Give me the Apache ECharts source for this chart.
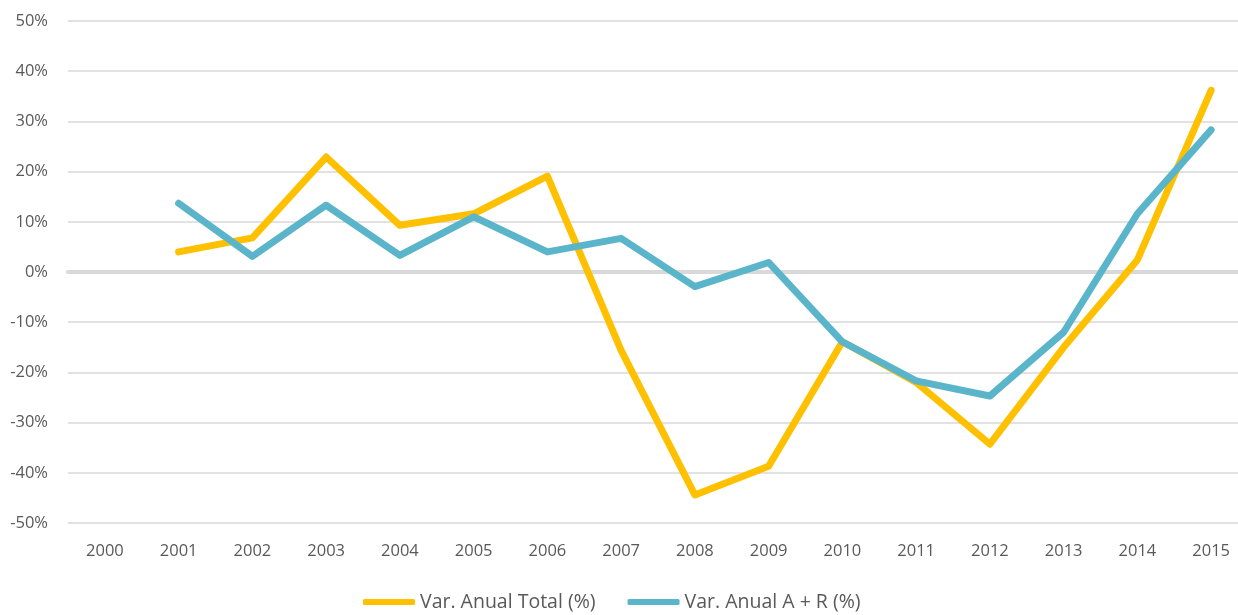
<!DOCTYPE html>
<html>
<head>
<meta charset="utf-8">
<script src="https://cdn.jsdelivr.net/npm/echarts@6/dist/echarts.min.js"></script>
<style>
html,body{margin:0;padding:0;background:#fff;}
#chart{width:1238px;height:615px;}
</style>
</head>
<body>
<div id="chart"></div>
<script>
var years = ['2000','2001','2002','2003','2004','2005','2006','2007','2008','2009','2010','2011','2012','2013','2014','2015'];
var seriesTotalName = 'Var. Anual Total (%)';
var seriesARName = 'Var. Anual A + R (%)';
var totalValues = [null, 4.0, 6.8, 22.9, 9.3, 11.6, 19.1, -15.6, -44.4, -38.7, -13.9, -22.0, -34.3, -15.0, 2.4, 36.2];
var arValues = [null, 13.7, 3.1, 13.3, 3.3, 11.0, 4.0, 6.7, -2.9, 1.9, -13.9, -21.7, -24.7, -12.0, 11.6, 28.3];
var yTicks = {min: -50, max: 50, interval: 10};

var chart = echarts.init(document.getElementById('chart'), null, {renderer: 'canvas'});
var font = '"Open Sans", "DejaVu Sans", sans-serif';
chart.setOption({
  animation: false,
  backgroundColor: '#ffffff',
  grid: {left: 68, width: 1180, top: 21, bottom: 92, containLabel: false, outerBoundsMode: 'none'},
  legend: {
    bottom: -2,
    left: 358,
    itemWidth: 52,
    itemHeight: 6,
    itemGap: 32,
    icon: 'roundRect',
    textStyle: {fontFamily: font, fontSize: 19.5, color: '#595959'},
    data: [seriesTotalName, seriesARName]
  },
  xAxis: [{
    type: 'category',
    data: years,
    boundaryGap: true,
    axisLine: {show: false, onZero: false},
    axisTick: {show: false},
    axisLabel: {fontFamily: font, fontSize: 16.5, color: '#595959', margin: 20}
  }, {
    type: 'category',
    data: years,
    boundaryGap: true,
    position: 'bottom',
    axisLine: {show: true, onZero: true, lineStyle: {color: '#d9d9d9', width: 4}},
    axisTick: {show: false},
    axisLabel: {show: false}
  }],
  yAxis: {
    type: 'value',
    min: yTicks.min,
    max: yTicks.max,
    interval: yTicks.interval,
    axisLine: {show: false},
    axisTick: {show: false},
    splitLine: {lineStyle: {color: '#d9d9d9', width: 1.5}},
    axisLabel: {fontFamily: font, fontSize: 16.5, color: '#595959', margin: 20, formatter: '{value}%'}
  },
  series: [{
    name: seriesTotalName,
    type: 'line',
    data: totalValues,
    symbol: 'none',
    lineStyle: {width: 7, color: '#FFC000', cap: 'round', join: 'round'},
    itemStyle: {color: '#FFC000'}
  }, {
    name: seriesARName,
    type: 'line',
    data: arValues,
    symbol: 'none',
    lineStyle: {width: 7, color: '#5BB5CA', cap: 'round', join: 'round'},
    itemStyle: {color: '#5BB5CA'}
  }]
});
</script>
</body>
</html>
